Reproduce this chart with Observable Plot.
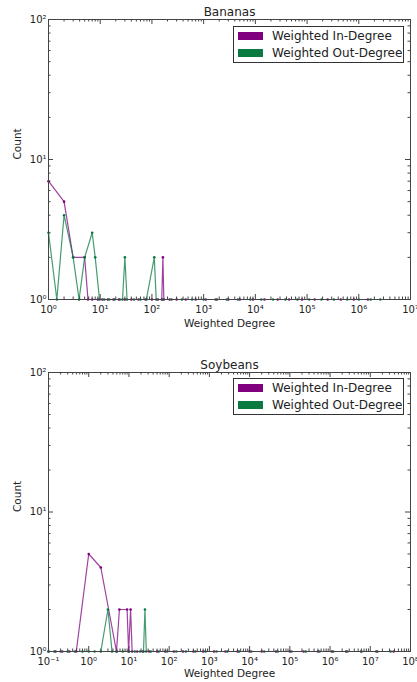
<!DOCTYPE html>
<html><head><meta charset="utf-8">
<script src="https://cdn.jsdelivr.net/npm/d3@7"></script>
<script src="https://cdn.jsdelivr.net/npm/@observablehq/plot@0.6"></script>
<style>
body{margin:0;background:#fff;font-family:"DejaVu Sans",sans-serif;}
.panel{position:relative;width:417px;height:341px;overflow:hidden;}
.legend{position:absolute;left:233px;width:169px;height:35px;border:1px solid #333;background:#fff;font-size:12px;color:#222;box-sizing:content-box;}
.row{position:absolute;left:4px;height:16px;display:flex;align-items:center;white-space:nowrap;}
.sw{width:25px;height:8px;margin-right:9px;}
</style></head><body><div id="root"></div><script>
// ---- data: [weighted degree, count] ----
const bananasIn = [[1,7],[2,5],[3,2],[5,2],[5.8,1],[7,1],[9,1],[11,1],[14,1],[18,1],[23,1],[30,1],[40,1],[55,1],[75,1],[100,1],[130,1],[155,1],[163,2],[170,1],[220,1],[300,1],[450,1],[700,1],[1100,1],[1800,1],[3000,1],[5000,1],[9000,1],[15000,1],[27000,1],[45000,1],[80000,1],[140000,1],[250000,1],[450000,1],[800000,1],[1500000,1]];
const bananasOut = [[1,3],[1.45,1],[2,4],[3,2],[3.9,1],[5,2],[7,3],[8,2],[9.7,1],[12,1],[15,1],[19,1],[24,1],[27,1],[30,2],[33,1],[45,1],[60,1],[78,1],[111,2],[121,1],[160,1],[240,1],[380,1],[600,1],[1000,1],[1700,1],[2800,1],[4600,1],[8000,1],[13000,1],[22000,1],[38000,1],[65000,1],[110000,1],[190000,1],[330000,1],[600000,1],[1000000,1],[1700000,1],[2600000,1]];
const soybeansIn = [[0.1,1],[0.15,1],[0.22,1],[0.33,1],[0.49,1],[1,5],[2,4],[4.9,1],[5.8,2],[9,2],[9.8,1],[11,2],[12,1],[16,1],[22,1],[32,1],[50,1],[80,1],[130,1],[220,1],[400,1],[700,1],[1300,1],[2500,1],[5000,1],[10000,1],[20000,1],[45000,1],[100000,1],[220000,1],[500000,1],[1100000,1],[2500000,1],[6000000,1],[15000000,1],[38000000,1]];
const soybeansOut = [[0.1,1],[0.14,1],[0.2,1],[0.3,1],[0.45,1],[0.7,1],[1,1],[1.4,1],[2,1],[3,2],[3.8,1],[5,1],[7,1],[10,1],[14,1],[19,1],[23,1],[25,2],[27,1],[35,1],[55,1],[90,1],[150,1],[260,1],[450,1],[800,1],[1500,1],[2800,1],[5500,1],[11000,1],[23000,1],[50000,1],[110000,1],[250000,1],[550000,1],[1200000,1],[2700000,1],[6000000,1],[14000000,1],[32000000,1]];
const bananasXTicks = [1,10,100,1e3,1e4,1e5,1e6,1e7];
const soybeansXTicks = [0.1,1,10,100,1e3,1e4,1e5,1e6,1e7,1e8];
const yTicks = [1,10,100];
const seriesNames = ["Weighted In-Degree","Weighted Out-Degree"];
const titles = ["Bananas","Soybeans"];
const xLabel = "Weighted Degree";
const yLabel = "Count";

const inColor = "#800080", outColor = "#0a7a40";
const supMap = {"-":"⁻","0":"⁰","1":"¹","2":"²","3":"³","4":"⁴","5":"⁵","6":"⁶","7":"⁷","8":"⁸","9":"⁹"};
const sup = d => "10" + String(Math.round(Math.log10(d))).split("").map(c => supMap[c]).join("");

function minors(ticks){
  const out = [];
  for (let i = 0; i < ticks.length - 1; i++) for (let m = 2; m < 10; m++) out.push(ticks[i] * m);
  return out;
}

function makePanel({title, inData, outData, xTicks, marginTop, marginBottom, xLabelDy, legendTop}){
  const H = 341, W = 417, mL = 48, mR = 7;
  const pH = H - marginTop - marginBottom, pW = W - mL - mR;
  const mx = minors(xTicks), my = minors(yTicks);
  const tc = "#444";
  const plot = Plot.plot({
    width: W, height: H, marginLeft: mL, marginRight: mR, marginTop, marginBottom,
    style: {fontFamily: "DejaVu Sans", fontSize: "10px", color: "#222", background: "#fff"},
    x: {type: "log", domain: [xTicks[0], xTicks[xTicks.length - 1]], label: null},
    y: {type: "log", domain: [1, 100], label: null},
    marks: [
      Plot.tickX(xTicks, {x: d => d, insetTop: pH - 5, stroke: tc}),
      Plot.tickX(xTicks, {x: d => d, insetBottom: pH - 5, stroke: tc}),
      Plot.tickX(mx, {x: d => d, insetTop: pH - 2.5, stroke: tc}),
      Plot.tickX(mx, {x: d => d, insetBottom: pH - 2.5, stroke: tc}),
      Plot.tickY(yTicks, {y: d => d, insetRight: pW - 5, stroke: tc}),
      Plot.tickY(yTicks, {y: d => d, insetLeft: pW - 5, stroke: tc}),
      Plot.tickY(my, {y: d => d, insetRight: pW - 2.5, stroke: tc}),
      Plot.tickY(my, {y: d => d, insetLeft: pW - 2.5, stroke: tc}),
      Plot.axisX({ticks: xTicks, tickFormat: sup, tickSize: 0, tickPadding: 6, label: null, fontSize: 10}),
      Plot.axisY({ticks: yTicks, tickFormat: sup, tickSize: 0, tickPadding: 2, label: null, fontSize: 10}),
      Plot.line(inData, {x: d => d[0], y: d => d[1], stroke: inColor, strokeOpacity: 0.75, strokeWidth: 1.2}),
      Plot.dot(inData, {x: d => d[0], y: d => d[1], r: 1.3, fill: inColor, stroke: "none"}),
      Plot.line(outData, {x: d => d[0], y: d => d[1], stroke: outColor, strokeOpacity: 0.75, strokeWidth: 1.2}),
      Plot.dot(outData, {x: d => d[0], y: d => d[1], r: 1.3, fill: outColor, stroke: "none"}),
      Plot.frame({stroke: tc}),
      Plot.text([title], {frameAnchor: "top", dy: -4, lineAnchor: "bottom", fontSize: 12, fill: "#222"}),
      Plot.text([xLabel], {frameAnchor: "bottom", dy: xLabelDy, lineAnchor: "bottom", fontSize: 10.5, fill: "#222"}),
      Plot.text([yLabel], {frameAnchor: "left", dx: -31, rotate: -90, fontSize: 10.5, fill: "#222"})
    ]
  });
  const div = document.createElement("div");
  div.className = "panel";
  div.appendChild(plot);
  const lg = document.createElement("div");
  lg.className = "legend";
  lg.style.top = legendTop + "px";
  [[seriesNames[0], inColor, 1], [seriesNames[1], outColor, 18]].forEach(([name, col, top]) => {
    const r = document.createElement("div");
    r.className = "row"; r.style.top = top + "px";
    const s = document.createElement("div"); s.className = "sw"; s.style.background = col;
    const t = document.createElement("span"); t.textContent = name;
    r.appendChild(s); r.appendChild(t); lg.appendChild(r);
  });
  div.appendChild(lg);
  return div;
}

const root = document.getElementById("root");
root.appendChild(makePanel({title: titles[0], inData: bananasIn, outData: bananasOut, xTicks: bananasXTicks, marginTop: 19, marginBottom: 42, xLabelDy: 27, legendTop: 26}));
root.appendChild(makePanel({title: titles[1], inData: soybeansIn, outData: soybeansOut, xTicks: soybeansXTicks, marginTop: 31, marginBottom: 31, xLabelDy: 25, legendTop: 37}));
</script></body></html>
